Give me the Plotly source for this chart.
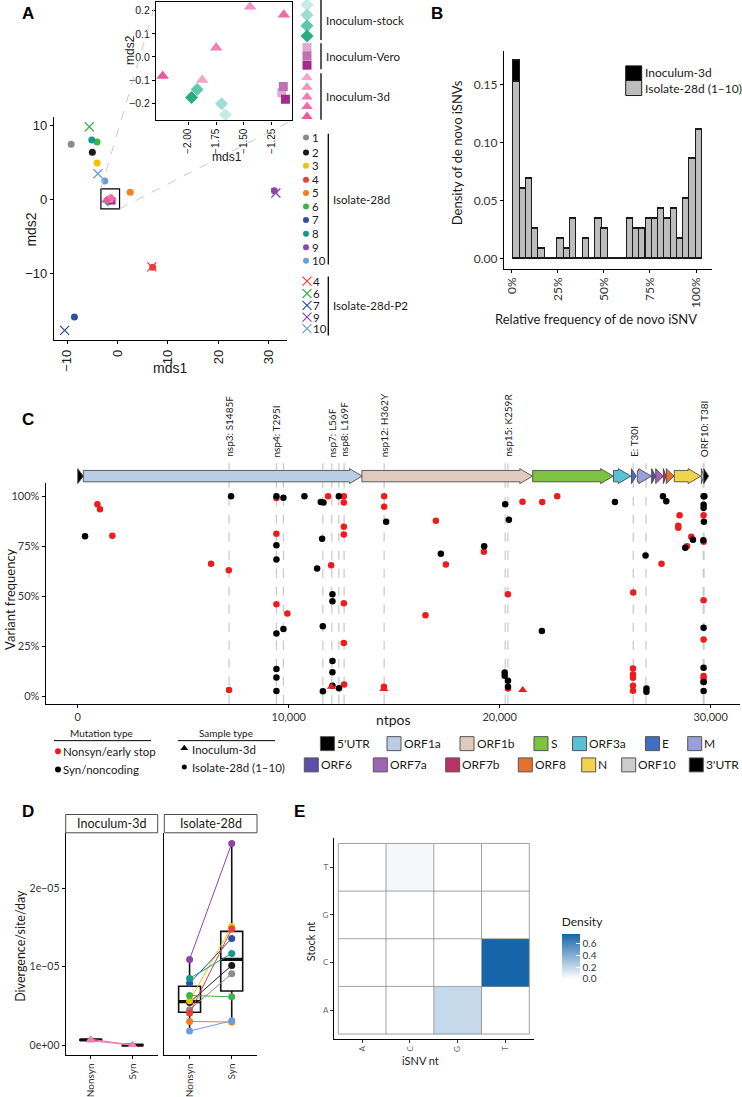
import plotly.graph_objects as go
import numpy as np

W, H = 742, 1097
FONT = "Lato"
ARIAL = "Liberation Sans"
TXT = "#1a1a1a"
TICK = "#333333"

def fx(p):
    return p / W

def fy(p):
    return 1 - p / H

# ---------------- Panel A data ----------------
iso_ids = [1, 2, 3, 4, 5, 6, 7, 8, 9, 10]
iso_colors = ["#8c8c8c", "#1a1a1a", "#f2c200", "#ee3b3b", "#f47f20",
              "#3db54a", "#2d4fa3", "#119a8e", "#8e44a8", "#6a9ee0"]
iso_mds1 = [-9.2, -5.0, -4.06, 6.97, 2.5, -4.06, -8.55, -5.1, 31.1, -2.54]
iso_mds2 = [7.5, 6.4, 4.95, -9.15, 1.0, 7.8, -15.9, 8.07, 1.2, 2.5]
p2_ids = [4, 6, 7, 9, 10]
p2_mds1 = [6.8, -5.6, -10.5, 31.4, -3.9]
p2_mds2 = [-9.1, 9.86, -17.7, 0.9, 3.5]
stock_mds1 = [-1.665, -1.70, -1.92, -1.97]
stock_mds2 = [-0.25, -0.203, -0.141, -0.176]
stock_colors = ["#c4ebe6", "#9edcd4", "#5fc7ae", "#2bab80"]
vero_mds1 = [-1.158, -1.144, -1.125]
vero_mds2 = [-0.155, -0.128, -0.183]
vero_colors = ["#dcaad3", "#c071b4", "#a52a8e"]
d3_mds1 = [-1.874, -1.443, -1.748, -1.14, -2.23]
d3_mds2 = [-0.10, 0.217, 0.040, 0.183, -0.083]
d3_colors = ["#f5a3c8", "#f391bf", "#f07fb3", "#ee6ca8", "#ea5a9d"]
a_groups = ["Inoculum-stock", "Inoculum-Vero", "Inoculum-3d", "Isolate-28d", "Isolate-28d-P2"]

# ---------------- Panel B data ----------------
b_bin_center = [2.6, 6.0, 9.4, 12.8, 16.2, 19.7, 23.1, 26.5, 29.9, 33.3,
                36.7, 40.1, 43.5, 47.0, 50.4, 53.8, 57.2, 60.6, 64.0, 67.4,
                70.8, 74.3, 77.7, 81.1, 84.5, 87.9, 91.3, 94.7, 98.1, 101.5]
b_isolate = [0.153, 0.060, 0.0688, 0.0258, 0.0086, 0, 0, 0.0172, 0.0086, 0.0345,
             0, 0.0172, 0, 0.0345, 0.0258, 0, 0, 0, 0.0345, 0.0258,
             0.0258, 0.0345, 0.0345, 0.0430, 0.0345, 0.0430, 0.0172, 0.0516, 0.0860, 0.111]
b_inoc = [0.018] + [0] * 29
b_labels = ["Inoculum-3d", "Isolate-28d (1\u201310)"]
b_ticks = [0, 25, 50, 75, 100]

# ---------------- Panel C data ----------------
c_red_pos = [934, 1057, 1641, 6321, 7160, 7174, 9418, 9418, 9418, 9938,
             11868, 12613, 12613, 12613, 12613, 12011, 12613, 12613, 12627,
             14524, 14524, 14514, 16975, 17449, 19251, 16483,
             20389, 20394, 21081, 22016, 22727,
             26330, 26318, 26318, 26318, 26318, 26318,
             27672, 28526, 28464, 28464, 29080, 28876,
             29665, 29665, 29665, 29665, 29665, 29665, 29665]
c_red_freq = [96, 93.5, 80.3, 66.2, 63, 3.0, 99.2, 81.3, 46, 41.3,
              100, 100, 96.9, 84.7, 80.9, 65.5, 46.4, 26.5, 5.8,
              100, 94.8, 4.7, 87.8, 65.8, 72.2, 40.5,
              51, 3.8, 97.3, 97.2, 100,
              51.8, 13.8, 10.8, 9.2, 5.2, 2.7,
              66.2, 90.5, 85.2, 84.2, 79.7, 75,
              90.5, 77.2, 48, 28.3, 10, 8.8, 7.2]
c_black_pos = [346, 7269, 9418, 9750, 9418, 9418, 9750, 9418, 9418, 9418, 9418,
               10745, 11522, 11648, 12376, 11584, 11347, 12073, 12073, 11617,
               12073, 12073, 11620, 12073, 12384,
               14618, 17212, 19265, 22000,
               20261, 20436, 20237, 20237, 20394, 20394,
               25462, 27738, 27895, 29160, 28795, 26913, 26955, 26955,
               29665, 29700, 29665, 29665, 29680, 29650, 29665, 29665, 29665, 29665]
c_black_freq = [80, 100, 100, 99.3, 75.5, 68.4, 33.5, 31.3, 13.5, 9.3, 2.5,
                100, 97.2, 96.9, 100, 78.7, 63.9, 50.9, 47.5, 34.9,
                17.5, 11.9, 2.4, 5.2, 3.85,
                87.3, 71.2, 75, 32.5,
                96, 88.2, 11.8, 10.2, 7.7, 4.7,
                97.2, 100, 97.5, 78.2, 74.2, 70.3, 3.8, 2.2,
                100, 100, 95.8, 94.2, 87.2, 78, 34.2, 14.2, 7, 2.5]
c_tri_pos = [12025, 14514, 21091]
c_tri_freq = [4.7, 3.5, 3.0]
c_line_pos = [7174, 9418, 9750, 11617, 12044, 12376, 12627, 14524,
              20261, 20389, 26330, 26932, 29645, 29685]
c_label_pos = [7174, 9418, 12044, 12627, 14524, 20400, 26330, 29665]
c_label_text = ["nsp3: S1485F", "nsp4: T295I", "nsp7: L56F", "nsp8: L169F",
                "nsp12: H362Y", "nsp15: K259R", "E: T30I", "ORF10: T38I"]
c_freq_ticks = [0, 25, 50, 75, 100]
gene_names = ["5'UTR", "ORF1a", "ORF1b", "S", "ORF3a", "E", "M",
              "ORF6", "ORF7a", "ORF7b", "ORF8", "N", "ORF10", "3'UTR"]
gene_start = [1, 266, 13468, 21563, 25393, 26245, 26523, 27202, 27394, 27756, 27894, 28274, 29558, 29675]
gene_end = [265, 13483, 21555, 25384, 26220, 26472, 27191, 27387, 27759, 27887, 28259, 29533, 29674, 29903]
gene_colors = ["#000000", "#b9cde5", "#dfcbbd", "#7fc241", "#5bbfd6", "#3e6fc1", "#9a9ed9",
               "#5a4fa9", "#a064b5", "#b83268", "#e6702e", "#f1d44c", "#cccccc", "#000000"]

# ---------------- Panel D data ----------------
d_cats = ["Nonsyn", "Syn"]
d_iso_nonsyn = [0.451e-5, 0.545e-5, 0.566e-5, 0.409e-5, 0.302e-5, 0.634e-5, 0.79e-5, 0.851e-5, 1.094e-5, 0.179e-5]
d_iso_syn = [0.911e-5, 1.017e-5, 1.515e-5, 1.481e-5, 0.294e-5, 0.617e-5, 1.362e-5, 1.17e-5, 2.574e-5, 0.311e-5]
d_inoc_nonsyn = [0.075e-5, 0.058e-5]
d_inoc_syn = [0.0, 0.0]
d_facets = ["Inoculum-3d", "Isolate-28d"]

# ---------------- Panel E data ----------------
e_nt = ["A", "C", "G", "T"]
# rows: stock nt A, C, G, T ; columns: iSNV nt A, C, G, T
e_density = [[0, 0, 0.19, 0],
             [0, 0, 0, 0.77],
             [0, 0, 0, 0],
             [0, 0.035, 0, 0]]

fig = go.Figure()
shapes = []
annots = []

def ann(x, y, text, size=12, color=TXT, family=FONT, xanchor="center", yanchor="middle", angle=0, bold=False):
    if bold:
        text = "<b>" + text + "</b>"
    annots.append(dict(x=fx(x), y=fy(y), xref="paper", yref="paper", text=text, showarrow=False,
                       font=dict(size=size, color=color, family=family), xanchor=xanchor,
                       yanchor=yanchor, textangle=angle, borderpad=0))

def cline(x0, y0, x1, y1, color="black", width=1, dash=None):
    d = dict(type="line", xref="x8", yref="y9", x0=x0, y0=y0, x1=x1, y1=y1,
             line=dict(color=color, width=width))
    if dash:
        d["line"]["dash"] = dash
    shapes.append(d)

def crect(x0, y0, x1, y1, fill, line="#444444", width=1):
    shapes.append(dict(type="rect", xref="x8", yref="y9", x0=x0, y0=y0, x1=x1, y1=y1,
                       fillcolor=fill, line=dict(color=line, width=width)))

def cmark(xs, ys, colors, symbol, size, line_color=None, line_width=0):
    m = dict(color=colors, symbol=symbol, size=size)
    if line_color is not None:
        m["line"] = dict(color=line_color, width=line_width)
    fig.add_trace(go.Scatter(x=xs, y=ys, mode="markers", marker=m, xaxis="x8", yaxis="y9",
                             showlegend=False, hoverinfo="skip"))

# ================= Panel A =================
A_XR = [-12.6, 33.6]
A_YR = [-19.05, 11.2]
def a_px(x):
    return 54 + (x - A_XR[0]) / (A_XR[1] - A_XR[0]) * (287 - 54)
def a_py(y):
    return 341 - (y - A_YR[0]) / (A_YR[1] - A_YR[0]) * (341 - 117)

fig.add_trace(go.Scatter(x=iso_mds1, y=iso_mds2, mode="markers",
                         marker=dict(color=iso_colors, size=7), xaxis="x", yaxis="y", showlegend=False))
p2_cols = [iso_colors[iso_ids.index(i)] for i in p2_ids]
fig.add_trace(go.Scatter(x=p2_mds1, y=p2_mds2, mode="markers",
                         marker=dict(symbol="x-thin", size=9, line=dict(color=p2_cols, width=1.3)),
                         xaxis="x", yaxis="y", showlegend=False))
for xs, ys, cols, sym, sz in [(stock_mds1, stock_mds2, stock_colors, "diamond", 8),
                              (vero_mds1, vero_mds2, vero_colors, "square", 7),
                              (d3_mds1, d3_mds2, d3_colors, "triangle-up", 9)]:
    fig.add_trace(go.Scatter(x=xs, y=ys, mode="markers", marker=dict(color=cols, symbol=sym, size=sz),
                             xaxis="x", yaxis="y", showlegend=False))
    fig.add_trace(go.Scatter(x=xs, y=ys, mode="markers", marker=dict(color=cols, symbol=sym, size=sz + 2),
                             xaxis="x2", yaxis="y2", showlegend=False))

# zoom box & connectors
box_x = [-3.3, 0.4]
box_y = [-1.25, 1.45]
shapes.append(dict(type="rect", xref="x", yref="y", x0=box_x[0], x1=box_x[1], y0=box_y[0], y1=box_y[1],
                   line=dict(color="black", width=1.2)))
cline(a_px(box_x[0]), a_py(box_y[1]), 156, 1.7, color="#cccccc", width=1, dash="dash")
cline(a_px(box_x[1]), a_py(box_y[0]), 292, 120.7, color="#cccccc", width=1, dash="dash")

# legend A
leg_x = 307
stock_leg_y = [4.7, 15, 25.7, 36]
vero_leg_y = [47.7, 56, 65.3]
d3_leg_y = [77.7, 87.3, 97.3, 106.7, 116.7]
iso_leg_y = [137.7, 152.7, 166, 180, 193.3, 207, 220.3, 234.3, 247.7, 261.3]
p2_leg_y = [281.7, 294, 306, 317.7, 329.3]
cmark([leg_x] * 4, stock_leg_y, stock_colors, "diamond", 10)
cmark([leg_x] * 3, vero_leg_y, vero_colors, "square", 9)
cmark([leg_x] * 5, d3_leg_y, d3_colors, "triangle-up", 10)
cmark([leg_x - 1] * 10, iso_leg_y, iso_colors, "circle", 6)
fig.add_trace(go.Scatter(x=[leg_x] * 5, y=p2_leg_y, mode="markers",
                         marker=dict(symbol="x-thin", size=9, line=dict(color=p2_cols, width=1.2)),
                         xaxis="x8", yaxis="y9", showlegend=False))
for i, yv in zip(iso_ids, iso_leg_y):
    ann(311, yv, str(i), size=11.5, xanchor="left")
for i, yv in zip(p2_ids, p2_leg_y):
    ann(311.5, yv, str(i), size=11.5, xanchor="left")
cline(321, 0, 321, 40, width=1.3)
cline(321, 43.3, 321, 69.3, width=1.3)
cline(321, 73.3, 321, 120, width=1.3)
cline(328.3, 134, 328.3, 265, width=1.3)
cline(328.3, 277, 328.3, 336, width=1.3)
ann(324.5, 20.7, a_groups[0], size=11.5, xanchor="left")
ann(324.5, 57, a_groups[1], size=11.5, xanchor="left")
ann(324.5, 96.3, a_groups[2], size=11.5, xanchor="left")
ann(331.7, 200, a_groups[3], size=11.5, xanchor="left")
ann(331.7, 306, a_groups[4], size=11.5, xanchor="left")

ann(170, 369, "mds1", size=14, family=ARIAL)
ann(31, 230, "mds2", size=14, family=ARIAL, angle=-90)
ann(227, 157, "mds1", size=12, family=ARIAL)
ann(130, 50, "mds2", size=12, family=ARIAL, angle=-90)

# ================= Panel B =================
fig.add_trace(go.Bar(x=b_bin_center, y=b_isolate, width=3.41, marker=dict(color="#bdbdbd", line=dict(color="#1a1a1a", width=1.2)),
                     xaxis="x3", yaxis="y3", showlegend=False))
fig.add_trace(go.Bar(x=b_bin_center, y=b_inoc, width=3.41, marker=dict(color="#000000", line=dict(color="#1a1a1a", width=1.2)),
                     xaxis="x3", yaxis="y3", showlegend=False))
crect(625.7, 66, 641.7, 80.7, "#000000", line="#1a1a1a")
crect(625.7, 80.7, 641.7, 95.7, "#bdbdbd", line="#1a1a1a")
ann(643.5, 73, b_labels[0], size=12, xanchor="left")
ann(643.5, 88.3, b_labels[1], size=12, xanchor="left")
ann(456.5, 153, "Density of de novo iSNVs", size=13, angle=-90)
ann(596, 320, "Relative frequency of de novo iSNV", size=13)

# ================= Panel C =================
for p in c_line_pos:
    shapes.append(dict(type="line", xref="x4", yref="paper", x0=p, x1=p, y0=fy(705), y1=fy(464),
                       line=dict(color="#c8c8c8", width=1.2, dash="dash"), layer="below"))
for p, t in zip(c_label_pos, c_label_text):
    annots.append(dict(x=p, y=fy(459), xref="x4", yref="paper", text=t, showarrow=False, textangle=-90,
                       xanchor="center", yanchor="bottom", borderpad=0,
                       font=dict(size=10, color="#222222", family=FONT)))
HEAD = 600
for s, e, col in zip(gene_start, gene_end, gene_colors):
    if e - s > HEAD:
        hb = e - HEAD
        path = (f"M {s},0.31 L {hb},0.31 L {hb},0.25 L {e},0.5 L {hb},0.75 L {hb},0.69 L {s},0.69 Z")
    else:
        path = f"M {s},0.25 L {e},0.5 L {s},0.75 Z"
    shapes.append(dict(type="path", xref="x4", yref="y5", path=path, fillcolor=col,
                       line=dict(color="#3a3a3a", width=0.8)))
fig.add_trace(go.Scatter(x=c_red_pos, y=c_red_freq, mode="markers", marker=dict(color="#ee1c1c", size=6.5),
                         xaxis="x4", yaxis="y4", showlegend=False))
fig.add_trace(go.Scatter(x=c_black_pos, y=c_black_freq, mode="markers", marker=dict(color="#000000", size=6.5),
                         xaxis="x4", yaxis="y4", showlegend=False))
fig.add_trace(go.Scatter(x=c_tri_pos, y=c_tri_freq, mode="markers",
                         marker=dict(color="#ee1c1c", size=8, symbol="triangle-up"),
                         xaxis="x4", yaxis="y4", showlegend=False))
ann(10, 600, "Variant frequency", size=13, angle=-90)
ann(393, 721, "ntpos", size=14)

# C legends
ann(101, 734, "Mutation type", size=10)
cline(54, 742, 151, 742, width=1)
cmark([58, 58], [752.7, 771], ["#ee1c1c", "#000000"], "circle", 6)
ann(62, 752.7, "Nonsyn/early stop", size=11.5, xanchor="left")
ann(62, 771, "Syn/noncoding", size=11.5, xanchor="left")
ann(226, 734, "Sample type", size=10)
cline(178, 742, 275, 742, width=1)
cmark([184.3], [749.5], ["#000000"], "triangle-up", 7)
cmark([184.3], [768.3], ["#000000"], "circle", 5)
ann(191, 751, "Inoculum-3d", size=11.5, xanchor="left")
ann(191, 768.5, "Isolate-28d (1\u201310)", size=11.5, xanchor="left")
leg_row1_x = [320.4, 387, 460, 534, 572.5, 645.5, 687.7]
leg_row2_x = [304.3, 373.3, 445.7, 518.3, 581.7, 621.7, 689.3]
for k, (name, col) in enumerate(zip(gene_names, gene_colors)):
    if k < 7:
        bx, by = leg_row1_x[k], 745
    else:
        bx, by = leg_row2_x[k - 7], 766.3
    crect(bx, by - 7, bx + 14, by + 7, col, line="#555555", width=1)
    ann(bx + 15.5, by, name, size=12, xanchor="left")

# ================= Panel D =================
def box_stats(v):
    v = np.asarray(v, dtype=float)
    q1, med, q3 = np.percentile(v, [25, 50, 75])
    iqr = q3 - q1
    lo = v[v >= q1 - 1.5 * iqr].min()
    hi = v[v <= q3 + 1.5 * iqr].max()
    return q1, med, q3, lo, hi

BW = 0.52
for xa, ya, groups in [("x5", "y6", [d_inoc_nonsyn, d_inoc_syn]), ("x6", "y7", [d_iso_nonsyn, d_iso_syn])]:
    for ci, vals in enumerate(groups):
        q1, med, q3, lo, hi = box_stats(vals)
        pos = ci + 1
        fig.add_trace(go.Box(x=[pos], q1=[q1], median=[med], q3=[q3], lowerfence=[lo], upperfence=[hi],
                             width=BW, line=dict(color="#111111", width=1.6), fillcolor="rgba(255,255,255,0)",
                             whiskerwidth=0, xaxis=xa, yaxis=ya, showlegend=False, boxpoints=False))
        fig.add_trace(go.Scatter(x=[pos - BW / 2, pos + BW / 2], y=[med, med], mode="lines",
                                 line=dict(color="#111111", width=3.2), xaxis=xa, yaxis=ya, showlegend=False))
for k in range(len(iso_ids)):
    fig.add_trace(go.Scatter(x=[1, 2], y=[d_iso_nonsyn[k], d_iso_syn[k]], mode="lines+markers",
                             line=dict(color=iso_colors[k], width=1), marker=dict(color=iso_colors[k], size=7),
                             xaxis="x6", yaxis="y7", showlegend=False))
for k in range(len(d_inoc_nonsyn)):
    fig.add_trace(go.Scatter(x=[1, 2], y=[d_inoc_nonsyn[k], d_inoc_syn[k]], mode="lines+markers",
                             line=dict(color="#f07fb3", width=1.2),
                             marker=dict(color="#f07fb3", size=8, symbol="triangle-up"),
                             xaxis="x5", yaxis="y6", showlegend=False))
crect(65.7, 816, 157.7, 834.3, "white", line="#4d4d4d", width=1)
crect(164.3, 816, 257, 834.3, "white", line="#4d4d4d", width=1)
ann(111.7, 825.5, d_facets[0], size=12.5)
ann(210.7, 825.5, d_facets[1], size=12.5)
ann(20.5, 948, "Divergence/site/day", size=12.5, angle=-90)

# ================= Panel E =================
fig.add_trace(go.Heatmap(z=e_density, x=[1, 2, 3, 4], y=[1, 2, 3, 4], zmin=0, zmax=0.77,
                         colorscale=[[0, "#ffffff"], [1, "#1565a8"]], xaxis="x7", yaxis="y8",
                         colorbar=dict(x=fx(551.7), xanchor="left", y=fy(948.2), yanchor="middle",
                                       len=85 / H, lenmode="fraction", thickness=18, thicknessmode="pixels",
                                       outlinewidth=0, tickvals=[0, 0.2, 0.4, 0.6],
                                       ticktext=["0.0", "0.2", "0.4", "0.6"], ticks="inside", ticklen=4,
                                       tickcolor="white", tickfont=dict(size=10, color="#333333", family=FONT),
                                       title=dict(text="Density", side="top", font=dict(size=12, color=TXT, family=FONT)))))
for g in [0.5, 1.5, 2.5, 3.5, 4.5]:
    shapes.append(dict(type="line", xref="x7", yref="y8", x0=g, x1=g, y0=0.5, y1=4.5, line=dict(color="#8a8a8a", width=0.8)))
    shapes.append(dict(type="line", xref="x7", yref="y8", x0=0.5, x1=4.5, y0=g, y1=g, line=dict(color="#8a8a8a", width=0.8)))
ann(421, 1062.7, "iSNV nt", size=11)
ann(310, 943, "Stock nt", size=11, angle=-90)

# panel letters
for (lx, ly, lt) in [(27.7, 13.5, "A"), (437, 13.5, "B"), (27.7, 420, "C"), (28, 812.7, "D"), (299, 812.7, "E")]:
    ann(lx, ly, lt, size=17, family=ARIAL, bold=True, color="black")

# ================= Layout =================
def axis(dom, rng, **kw):
    d = dict(domain=dom, range=rng, showgrid=False, zeroline=False, showline=True, linecolor="black",
             linewidth=1.2, ticks="outside", ticklen=3, tickcolor="black", tickwidth=1,
             tickfont=dict(size=11, color=TICK, family=FONT), fixedrange=True, tickmode="array")
    d.update(kw)
    return d

layout = dict(
    width=W, height=H, autosize=False, margin=dict(l=0, r=0, t=0, b=0),
    paper_bgcolor="white", plot_bgcolor="rgba(0,0,0,0)", barmode="stack", bargap=0,
    showlegend=False, font=dict(family=FONT, color=TXT),
    # A main
    xaxis=axis([fx(54), fx(287)], A_XR, anchor="y", tickvals=[-10, 0, 10, 20, 30],
               ticktext=["\u221210", "0", "10", "20", "30"], tickangle=-90,
               tickfont=dict(size=13, color=TXT, family=ARIAL)),
    yaxis=axis([fy(341), fy(117)], A_YR, anchor="x", tickvals=[-10, 0, 10],
               ticktext=["\u221210", "0", "10"],
               tickfont=dict(size=13, color=TXT, family=ARIAL)),
    # A inset
    xaxis2=axis([fx(156), fx(292)], [-2.29, -1.066], anchor="y2", mirror=True, tickvals=[-2.0, -1.75, -1.5, -1.25],
                ticktext=["\u22122.00", "\u22121.75", "\u22121.50", "\u22121.25"], tickangle=-90,
                tickfont=dict(size=10, color=TXT, family=ARIAL)),
    yaxis2=axis([fy(120.7), fy(1.7)], [-0.275, 0.239], anchor="x2", mirror=True, tickvals=[-0.2, -0.1, 0, 0.1, 0.2],
                ticktext=["\u22120.2", "\u22120.1", "0.0", "0.1", "0.2"],
                tickfont=dict(size=10.5, color=TXT, family=ARIAL)),
    # B
    xaxis3=axis([fx(504), fx(711.7)], [-4.2, 108.5], anchor="y3", tickvals=b_ticks,
                ticktext=[f"{v}%" for v in b_ticks], tickangle=-90,
                tickfont=dict(size=12, color=TICK, family=FONT)),
    yaxis3=axis([fy(269), fy(50.7)], [-0.0086, 0.1796], anchor="x3", tickvals=[0, 0.05, 0.10, 0.15],
                ticktext=["0.00", "0.05", "0.10", "0.15"], tickfont=dict(size=12, color=TICK, family=FONT)),
    # C
    xaxis4=axis([fx(45.7), fx(740)], [-1517, 31390], anchor="y4", tickvals=[0, 10000, 20000, 30000],
                ticktext=["0", "10,000", "20,000", "30,000"], tickfont=dict(size=11, color=TICK, family=FONT)),
    yaxis4=axis([fy(705), fy(484)], [-3.85, 106.6], anchor="x4", tickvals=c_freq_ticks,
                ticktext=[f"{v}%" for v in c_freq_ticks], tickfont=dict(size=11, color=TICK, family=FONT)),
    yaxis5=dict(domain=[fy(492), fy(462)], range=[0, 1], visible=False, anchor="x4", fixedrange=True),
    # D
    xaxis5=axis([fx(65.7), fx(157.7)], [0.4, 2.6], anchor="y6", tickvals=[1, 2], ticktext=d_cats,
                tickangle=-90, tickfont=dict(size=10, color=TICK, family=FONT)),
    yaxis6=axis([fy(1057.3), fy(834.3)], [-1.31e-6, 2.71e-5], anchor="x5", tickvals=[0, 1e-5, 2e-5],
                ticktext=["0e+00", "1e\u221205", "2e\u221205"], tickfont=dict(size=10.5, color=TICK, family=FONT)),
    xaxis6=axis([fx(164.3), fx(257)], [0.4, 2.6], anchor="y7", tickvals=[1, 2], ticktext=d_cats,
                tickangle=-90, tickfont=dict(size=10, color=TICK, family=FONT)),
    yaxis7=axis([fy(1057.3), fy(834.3)], [-1.31e-6, 2.71e-5], anchor="x6", showticklabels=False, ticks=""),
    # E
    xaxis7=axis([fx(334), fx(534.3)], [0.41, 4.605], anchor="y8", tickvals=[1, 2, 3, 4], ticktext=e_nt,
                tickangle=-90, tickfont=dict(size=8, color="#666666", family=FONT), tickcolor="#333333"),
    yaxis8=axis([fy(1040.7), fy(840)], [0.40, 4.605], anchor="x7", tickvals=[1, 2, 3, 4], ticktext=e_nt,
                tickfont=dict(size=8, color="#666666", family=FONT), tickcolor="#333333"),
    # canvas
    xaxis8=dict(domain=[0, 1], range=[0, W], visible=False, anchor="y9", fixedrange=True),
    yaxis9=dict(domain=[0, 1], range=[H, 0], visible=False, anchor="x8", fixedrange=True),
    shapes=shapes, annotations=annots,
)
fig.update_layout(**layout)
fig.write_html("out.html", config={"displayModeBar": False},
               post_script="document.body.style.margin='0';document.body.style.padding='0';document.body.style.overflow='hidden';")
